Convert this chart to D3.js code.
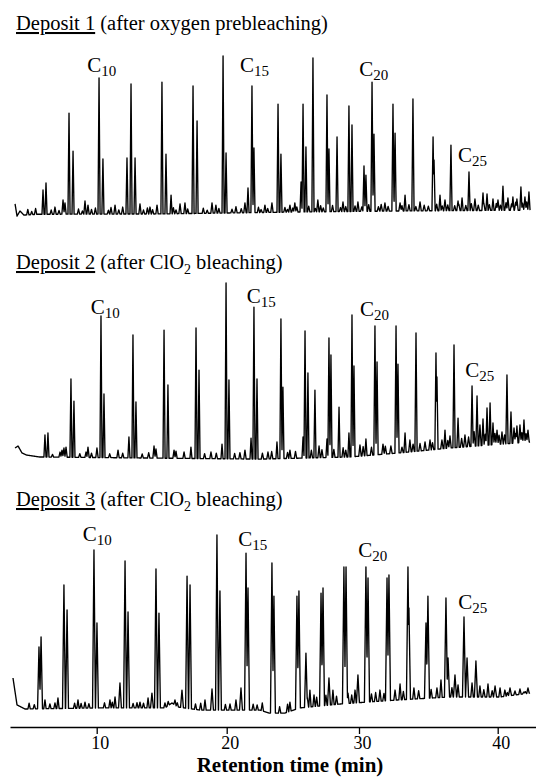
<!DOCTYPE html>
<html>
<head>
<meta charset="utf-8">
<script src="https://cdn.jsdelivr.net/npm/d3@7"></script>
<style>
  body { margin: 0; background: #fff; }
  text { font-family: "Liberation Serif", "Times New Roman", serif; fill: #000; }
</style>
</head>
<body>
<svg id="chart" width="536" height="777"></svg>
<script>
// x axis ticks (retention time, min)
const tickValues = [10, 20, 30, 40];
const axisTitle = "Retention time (min)";

// peaks: [retention time (min), apex height (% of tallest peak)]
const peaks1 = [[5.87,18.3],[6.10,22.6],[7.87,65.2],[8.18,42.0],[10.18,86.6],[10.48,37.2],[12.33,37.8],[12.64,82.9],[12.95,37.8],
  [15.02,84.1],[15.33,40.2],[15.72,15.2],[17.41,81.7],[17.72,60.4],[19.72,100],[19.95,40.9],[21.61,19.5],[21.91,81.7],[22.06,43.9],
  [23.88,70.7],[24.10,40.2],[25.62,23.2],[25.77,70.7],[25.99,44.5],[26.52,98.8],[27.58,76.2],[27.73,43.3],[28.34,50.6],[29.24,69.5],
  [29.47,57.9],[30.36,32.9],[30.50,27.4],[30.94,84.1],[31.08,52.4],[32.45,70.7],[32.60,53.0],[33.32,15.2],[33.89,73.8],[35.34,50.6],
  [35.41,36.6],[35.84,15.2],[36.63,45.7],[37.43,13.4],[37.93,29.3],[38.94,16.5],[39.23,15.9],[39.66,12.8],[40.38,20.7],[41.10,14.0],
  [41.68,20.1],[42.26,17.1]];
// small baseline peaks
const noise1 = [[4.70,6.5],[5.00,5.2],[5.30,7.0],[6.50,6.1],[6.79,7.9],[7.10,5.8],[7.41,12.2],[7.56,10.4],[8.60,6.7],[8.90,5.5],
  [9.10,11.6],[9.33,9.1],[9.60,6.4],[9.90,7.3],[10.90,6.0],[11.10,7.6],[11.41,9.1],[11.70,6.2],[12.00,7.9],[13.33,9.8],[13.60,6.1],
  [13.90,7.4],[14.10,7.9],[14.30,6.3],[14.64,9.1],[15.90,7.5],[16.10,6.2],[16.41,9.8],[16.79,10.4],[17.00,6.8],[18.20,7.2],[18.50,6.0],
  [18.87,10.4],[19.17,9.1],[19.40,7.0],[20.40,6.6],[20.70,8.1],[21.10,6.9],[21.38,10.4],[22.40,7.8],[22.60,6.4],[22.89,9.1],[23.10,7.0],
  [23.42,10.4],[24.40,7.7],[24.60,6.5],[24.78,9.1],[25.00,7.3],[25.15,10.4],[25.30,8.0],[26.20,8.4],[26.70,7.1],[26.89,12.2],[27.10,8.8],
  [27.30,7.4],[28.00,8.9],[28.60,7.6],[28.79,11.0],[29.00,8.2],[29.70,8.6],[29.92,11.0],[30.20,8.0],[30.70,9.3],[31.40,8.1],[31.60,9.5],
  [31.87,10.4],[32.10,8.3],[32.96,10.4],[33.10,8.7],[33.60,9.4],[34.10,8.2],[34.40,11.0],[34.70,9.0],[35.00,8.4],[35.60,9.7],[36.00,8.6],
  [36.20,12.2],[36.40,9.2],[36.90,8.8],[37.14,11.6],[37.20,9.6],[37.70,8.9],[38.10,10.0],[38.36,12.8],[38.60,9.1],[39.00,10.3],[39.40,9.4],
  [39.90,10.1],[40.02,12.2],[40.20,9.0],[40.60,10.5],[40.74,13.4],[41.00,9.8],[41.30,10.9],[41.39,12.8],[41.80,10.2],[41.97,14.0],[42.10,11.0]];
const base1 = [[3.72,9.8],[3.87,2.4],[4.10,5.5],[4.40,3.0],[5.50,3.5],[15.0,3.7],[25.5,4.9],[33.0,5.5],[42.34,6.0]];

const peaks2 = [[6.02,14.1],[6.25,15.3],[8.02,45.8],[8.25,33.3],[10.33,81.4],[10.56,37.3],[12.48,13.0],[12.79,70.6],[13.02,32.8],
  [15.18,73.4],[15.48,42.4],[17.25,7.3],[17.64,74.6],[17.87,50.8],[19.64,9.0],[19.95,100],[20.17,45.2],[21.84,12.4],[22.06,86.4],
  [22.29,45.8],[23.80,10.2],[24.10,79.7],[24.25,41.2],[25.77,13.0],[25.92,72.9],[26.14,49.2],[26.67,39.5],[27.58,11.9],[27.73,68.9],
  [27.88,59.3],[28.49,29.9],[29.24,15.3],[29.47,81.9],[29.62,53.1],[30.50,11.9],[31.15,75.7],[31.30,55.4],[32.67,75.7],[32.81,54.2],
  [33.32,15.3],[34.11,71.8],[35.55,60.5],[35.62,46.9],[36.20,16.9],[36.85,65.0],[37.14,23.7],[38.15,41.8],[38.51,36.2],[38.94,23.2],
  [39.23,29.4],[39.45,32.2],[39.66,20.9],[40.67,48.0],[40.96,27.1],[41.39,19.2],[41.90,22.6]];
const noise2 = [[6.60,3.2],[7.18,4.5],[7.33,5.6],[7.48,6.8],[7.64,7.3],[8.70,3.6],[9.18,4.5],[9.33,7.3],[9.60,3.9],[10.02,6.8],
  [11.00,3.5],[11.64,5.6],[12.00,3.8],[13.50,3.4],[14.00,4.1],[14.41,7.9],[14.56,6.2],[15.95,5.6],[16.10,5.0],[16.72,4.5],[18.30,3.6],
  [18.79,4.5],[19.20,3.9],[20.60,3.7],[21.00,4.2],[21.38,5.6],[22.70,3.9],[23.12,4.5],[23.40,4.8],[24.60,4.3],[24.78,5.6],[25.20,4.9],
  [26.40,5.5],[26.98,7.9],[27.20,5.8],[28.10,6.0],[28.80,6.9],[29.00,5.6],[30.07,8.5],[30.30,7.6],[30.90,7.2],[31.73,9.0],[31.90,7.8],
  [32.30,7.9],[33.10,7.3],[33.67,11.3],[33.90,9.0],[34.40,9.3],[34.76,10.2],[35.12,11.3],[35.30,9.8],[35.98,11.3],[36.40,11.0],
  [36.56,13.6],[37.40,12.2],[37.64,14.1],[37.90,13.0],[38.30,16.0],[38.72,19.8],[39.10,14.6],[39.80,15.0],[39.95,16.9],[40.10,14.0],
  [40.31,15.8],[40.50,14.2],[41.18,18.1],[41.30,15.0],[41.61,19.8],[41.75,15.5],[42.05,14.9],[42.19,16.9]];
const base2 = [[3.72,6.8],[3.95,7.9],[4.25,4.0],[4.60,2.8],[5.60,1.7],[14.1,1.1],[22.5,0.5],[29.3,1.7],[32.9,4.0],[36.6,6.8],[42.34,10.2]];

const peaks3 = [[5.56,36.7],[5.72,42.4],[7.48,71.8],[7.72,57.6],[9.79,91.5],[10.02,50.3],[11.79,16.4],[12.18,85.3],[12.41,56.5],
  [14.25,10.7],[14.56,80.8],[14.79,55.9],[16.56,12.4],[16.95,76.8],[17.18,71.8],[18.87,13.0],[19.25,100],[19.48,68.4],[21.08,13.6],
  [21.46,89.8],[21.61,70.1],[23.42,84.2],[23.57,65.5],[25.31,65.5],[25.46,68.4],[25.99,33.3],[27.13,67.2],[27.28,70.1],[27.73,19.2],
  [28.86,81.9],[29.02,81.9],[29.92,20.9],[30.50,81.9],[30.65,75.7],[32.02,75.7],[32.16,77.4],[33.53,81.9],[33.60,58.8],[34.83,50.3],
  [34.97,65.5],[36.27,64.4],[36.42,30.5],[36.92,20.9],[37.57,53.7],[37.79,30.5],[38.43,28.8],[39.81,14.7],[40.89,13.6],[41.90,11.3]];
const noise3 = [[4.80,5.0],[5.20,4.2],[6.02,6.8],[6.40,4.6],[6.79,5.1],[7.02,7.9],[8.30,5.0],[8.56,6.8],[8.80,4.8],[9.10,5.6],
  [9.40,4.7],[10.60,5.2],[11.02,6.8],[11.20,5.5],[11.41,8.5],[12.80,4.9],[13.10,5.3],[13.33,5.6],[13.60,5.0],[13.95,7.9],[15.25,5.1],
  [15.50,6.0],[16.02,6.8],[16.20,5.2],[17.60,4.6],[18.00,5.0],[18.33,6.8],[19.90,4.3],[20.25,4.5],[20.70,6.8],[22.00,4.4],[22.30,4.0],
  [22.69,5.1],[24.00,3.0],[24.60,4.4],[24.78,5.6],[26.10,8.0],[26.29,12.4],[26.60,9.6],[26.80,8.4],[27.50,9.5],[28.03,12.4],[28.30,9.0],
  [29.17,10.7],[29.45,9.6],[29.70,12.4],[30.90,10.2],[31.20,11.0],[31.51,12.4],[31.80,10.5],[32.60,12.4],[32.96,15.8],[33.20,11.6],
  [33.96,13.6],[34.30,12.0],[35.20,12.8],[35.62,13.6],[35.91,18.1],[36.70,13.8],[37.14,15.3],[38.15,16.4],[38.72,14.7],[39.00,12.6],
  [39.30,15.8],[39.60,12.0],[40.17,13.6],[40.52,12.4],[40.70,11.0],[41.25,11.9],[41.61,13.0],[42.00,11.5],[42.19,13.6]];
const base3 = [[3.56,19.2],[3.87,4.0],[4.48,1.7],[10.25,2.3],[15.25,2.3],[15.79,5.1],[16.25,2.8],[17.95,1.1],[22.5,1.1],[23.2,-0.6],
  [24.4,-0.6],[25.53,2.3],[28.56,4.5],[32.81,6.8],[36.56,8.5],[40.17,8.5],[42.34,10.7]];

// carbon-number labels: [subscript, time of left edge, height of baseline]
const labels1 = [["10",9.28,90.2],["15",21.0,90.2],["20",30.02,87.8],["25",37.14,35.4]];
const labels2 = [["10",9.54,82.5],["15",21.51,88.7],["20",30.07,81.4],["25",37.66,47.1]];
const labels3 = [["10",8.92,96.6],["15",20.88,93.8],["20",29.95,87.4],["25",37.16,58.0]];

const panels = [
  {name: "Deposit 1", pre: " (after oxygen prebleaching)", sub: null, post: "", titleY: 30, yr: [220, 56], w: 0.08,
   peaks: peaks1, noise: noise1, base: base1, labels: labels1},
  {name: "Deposit 2", pre: " (after ClO", sub: "2", post: " bleaching)", titleY: 269, yr: [460, 283], w: 0.08,
   peaks: peaks2, noise: noise2, base: base2, labels: labels2},
  {name: "Deposit 3", pre: " (after ClO", sub: "2", post: " bleaching)", titleY: 506, yr: [712, 535], w: 0.11,
   peaks: peaks3, noise: noise3, base: base3, labels: labels3}
];

const svg = d3.select("#chart");

// shared time scale (the scan is slightly stretched to the right)
const x = d3.scaleLinear()
  .domain([3.33, 10, 20, 30, 40, 42.77])
  .range([10, 96.7, 226.7, 359, 497.7, 536]);

// build a trace: baseline plus narrow triangular peaks
const buildTrace = (p) => {
  const bl = d3.scaleLinear().domain(p.base.map(d => d[0])).range(p.base.map(d => d[1])).clamp(true);
  const t0 = p.base[0][0], t1 = p.base[p.base.length - 1][0];
  const n = Math.round((t1 - t0) / 0.01);
  const pts = [];
  for (let i = 0; i <= n; i++) {
    const t = t0 + i * 0.01;
    const b = bl(t);
    let v = b;
    p.peaks.forEach(k => {
      const f = 1 - Math.abs(t - k[0]) / p.w;
      if (f > 0) v = Math.max(v, b + (k[1] - b) * f);
    });
    p.noise.forEach(k => {
      const f = 1 - Math.abs(t - k[0]) / 0.09;
      if (f > 0) v = Math.max(v, b + (k[1] - b) * f);
    });
    pts.push([t, v]);
  }
  return pts;
};

panels.forEach(p => {
  const y = d3.scaleLinear().domain([0, 100]).range(p.yr);
  const line = d3.line().x(d => x(d[0])).y(d => y(d[1]));

  svg.append("path")
    .datum(buildTrace(p))
    .attr("d", line)
    .attr("fill", "none")
    .attr("stroke", "#000")
    .attr("stroke-width", 1.35)
    .attr("stroke-linejoin", "round");

  // panel title
  const title = svg.append("text").attr("x", 16).attr("y", p.titleY).style("font-size", "20.5px");
  title.append("tspan").text(p.name).style("text-decoration", "underline");
  title.append("tspan").text(p.pre);
  if (p.sub) {
    title.append("tspan").text(p.sub).attr("dy", 5).style("font-size", "14px");
    title.append("tspan").text(p.post).attr("dy", -5);
  }

  // carbon labels
  p.labels.forEach(l => {
    const t = svg.append("text").attr("x", x(l[1])).attr("y", y(l[2])).style("font-size", "21px");
    t.append("tspan").text("C");
    t.append("tspan").text(l[0]).attr("dy", 4).style("font-size", "15px");
  });
});

// x axis
const axisY = 727;
const gx = svg.append("g")
  .attr("transform", "translate(0," + axisY + ")")
  .call(d3.axisBottom(x).tickValues(tickValues).tickSize(7).tickSizeOuter(0).tickFormat(d3.format("d")));
gx.select(".domain").attr("stroke", "#000").attr("stroke-width", 1.5);
gx.selectAll(".tick line").attr("stroke", "#000").attr("stroke-width", 1.3);
gx.selectAll(".tick text")
  .attr("y", 22).attr("dy", 0).attr("dx", 3)
  .attr("fill", "#000")
  .style("font-family", "'Liberation Serif', 'Times New Roman', serif")
  .style("font-size", "18px");

svg.append("text")
  .attr("x", 290).attr("y", 772)
  .attr("text-anchor", "middle")
  .style("font-size", "21px").style("font-weight", "bold")
  .text(axisTitle);
</script>
</body>
</html>
